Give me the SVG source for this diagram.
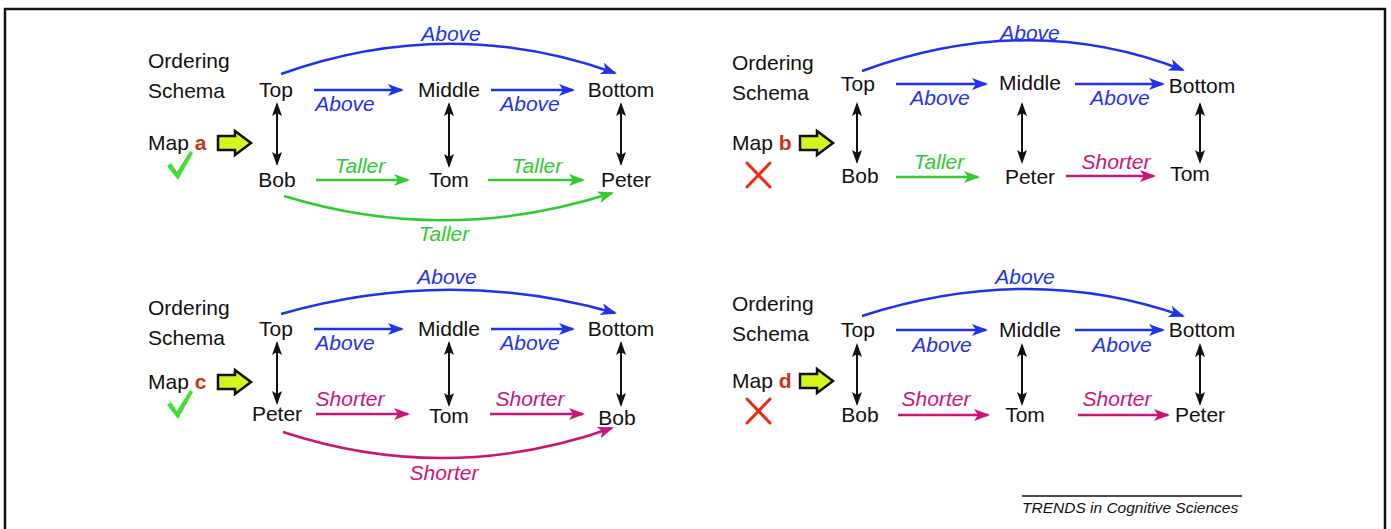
<svg xmlns="http://www.w3.org/2000/svg" width="1391" height="529" viewBox="0 0 1391 529">
  <style>
    text { font-family: "Liberation Sans", Arial, sans-serif; font-size: 21px; fill: #111; }
    .node { text-anchor: middle; }
    .lbl { font-style: italic; text-anchor: middle; }
    .blue { fill: #1f33ee; }
    .green { fill: #2fcc2f; }
    .pink { fill: #cc1676; }
    .mapid { font-weight: bold; fill: #c8361a; }
    .eb { stroke: #1f33ee; stroke-width: 2.5; fill: none; marker-end: url(#hb); }
    .eg { stroke: #2fcc2f; stroke-width: 2.5; fill: none; marker-end: url(#hg); }
    .ep { stroke: #cc1676; stroke-width: 2.5; fill: none; marker-end: url(#hp); }
    .ek { stroke: #111; stroke-width: 2; fill: none; marker-start: url(#hk); marker-end: url(#hk); }
    .foot { font-size: 15.5px; font-style: italic; }
  </style>
  <defs>
    <marker id="hb" viewBox="0 0 16 12" refX="14" refY="6" markerWidth="16" markerHeight="12" markerUnits="userSpaceOnUse" orient="auto">
      <path d="M0,0 L16,6 L0,12 L4,6 Z" fill="#1f33ee"/>
    </marker>
    <marker id="hg" viewBox="0 0 16 12" refX="14" refY="6" markerWidth="16" markerHeight="12" markerUnits="userSpaceOnUse" orient="auto">
      <path d="M0,0 L16,6 L0,12 L4,6 Z" fill="#2fcc2f"/>
    </marker>
    <marker id="hp" viewBox="0 0 16 12" refX="14" refY="6" markerWidth="16" markerHeight="12" markerUnits="userSpaceOnUse" orient="auto">
      <path d="M0,0 L16,6 L0,12 L4,6 Z" fill="#cc1676"/>
    </marker>
    <marker id="hk" viewBox="0 0 14 10" refX="12" refY="5" markerWidth="14" markerHeight="10" markerUnits="userSpaceOnUse" orient="auto-start-reverse">
      <path d="M0,0 L14,5 L0,10 L3,5 Z" fill="#111"/>
    </marker>
    <!-- block arrow pointing from the map label to the mapping -->
    <path id="maparrow" d="M0,-7 L17,-7 L17,-12 L33,0 L17,12 L17,7 L0,7 Z" fill="#d6f51e" stroke="#111" stroke-width="2.5" stroke-linejoin="miter"/>
    <path id="tick" d="M0,13 L4,10 L10,19 L23,-2 L26,0 L11,27 Z" fill="#44dd33"/>
    <g id="cross" stroke="#ee2a12" stroke-width="3" stroke-linecap="round">
      <line x1="0" y1="0" x2="23" y2="24"/>
      <line x1="23" y1="0" x2="0" y2="24"/>
    </g>
  </defs>

  <rect width="1391" height="529" fill="#fff"/>
  <!-- frame -->
  <path d="M5,540 L5,9 L1385,9 L1385,540" fill="none" stroke="#111" stroke-width="2.5"/>

  <!-- ===== Map a ===== -->
  <g id="panel-a">
    <g id="a-schema"><text x="148" y="68">Ordering</text><text x="148" y="98">Schema</text></g>
    <g id="a-map"><text x="148" y="150">Map <tspan class="mapid">a</tspan></text><use href="#maparrow" x="218" y="143"/></g>
    <use id="a-verdict" href="#tick" x="167" y="153"/>
    <g id="a-top"><text class="node" x="276" y="97">Top</text></g>
    <g id="a-middle"><text class="node" x="449" y="97">Middle</text></g>
    <g id="a-bottom"><text class="node" x="621" y="97">Bottom</text></g>
    <g id="a-bob"><text class="node" x="277" y="187">Bob</text></g>
    <g id="a-tom"><text class="node" x="449" y="187">Tom</text></g>
    <g id="a-peter"><text class="node" x="626" y="187">Peter</text></g>
    <g id="a-edges">
      <path class="eb" d="M314,90 L402,90"/>
      <path class="eb" d="M491,90 L573,90"/>
      <path class="eb" d="M281,74 Q449,14 615,73"/>
      <path class="ek" d="M277,104 L277,164"/>
      <path class="ek" d="M449,104 L449,166"/>
      <path class="ek" d="M621,104 L621,164"/>
      <path class="eg" d="M316,180 L408,180"/>
      <path class="eg" d="M488,180 L583,180"/>
      <path class="eg" d="M284,196 Q447,246 612,193"/>
      <text class="lbl blue" x="345" y="111">Above</text>
      <text class="lbl blue" x="530" y="111">Above</text>
      <text class="lbl blue" x="451" y="41">Above</text>
      <text class="lbl green" x="360" y="173">Taller</text>
      <text class="lbl green" x="537" y="173">Taller</text>
      <text class="lbl green" x="444" y="241">Taller</text>
    </g>
  </g>

  <!-- ===== Map b ===== -->
  <g id="panel-b">
    <g id="b-schema"><text x="732" y="70">Ordering</text><text x="732" y="100">Schema</text></g>
    <g id="b-map"><text x="732" y="150">Map <tspan class="mapid">b</tspan></text><use href="#maparrow" x="800" y="143"/></g>
    <use id="b-verdict" href="#cross" x="747" y="163"/>
    <g id="b-top"><text class="node" x="858" y="91">Top</text></g>
    <g id="b-middle"><text class="node" x="1030" y="90">Middle</text></g>
    <g id="b-bottom"><text class="node" x="1202" y="93">Bottom</text></g>
    <g id="b-bob"><text class="node" x="860" y="183">Bob</text></g>
    <g id="b-peter"><text class="node" x="1030" y="184">Peter</text></g>
    <g id="b-tom"><text class="node" x="1190" y="181">Tom</text></g>
    <g id="b-edges">
      <path class="eb" d="M896,84 L986,84"/>
      <path class="eb" d="M1075,84 L1163,84"/>
      <path class="eb" d="M862,71 Q1030,10 1183,70"/>
      <path class="ek" d="M857,104 L857,162"/>
      <path class="ek" d="M1022,104 L1022,162"/>
      <path class="ek" d="M1200,104 L1200,162"/>
      <path class="eg" d="M896,177 L978,177"/>
      <path class="ep" d="M1066,176 L1154,176"/>
      <text class="lbl blue" x="940" y="105">Above</text>
      <text class="lbl blue" x="1120" y="105">Above</text>
      <text class="lbl blue" x="1030" y="40">Above</text>
      <text class="lbl green" x="939" y="169">Taller</text>
      <text class="lbl pink" x="1116" y="169">Shorter</text>
    </g>
  </g>

  <!-- ===== Map c ===== -->
  <g id="panel-c">
    <g id="c-schema"><text x="148" y="315">Ordering</text><text x="148" y="345">Schema</text></g>
    <g id="c-map"><text x="148" y="389">Map <tspan class="mapid">c</tspan></text><use href="#maparrow" x="218" y="382"/></g>
    <use id="c-verdict" href="#tick" x="167" y="392"/>
    <g id="c-top"><text class="node" x="276" y="336">Top</text></g>
    <g id="c-middle"><text class="node" x="449" y="336">Middle</text></g>
    <g id="c-bottom"><text class="node" x="621" y="336">Bottom</text></g>
    <g id="c-peter"><text class="node" x="277" y="421">Peter</text></g>
    <g id="c-tom"><text class="node" x="449" y="423">Tom</text></g>
    <g id="c-bob"><text class="node" x="617" y="425">Bob</text></g>
    <g id="c-edges">
      <path class="eb" d="M314,329 L402,329"/>
      <path class="eb" d="M491,329 L573,329"/>
      <path class="eb" d="M281,314 Q449,266 615,313"/>
      <path class="ek" d="M277,343 L277,403"/>
      <path class="ek" d="M449,343 L449,405"/>
      <path class="ek" d="M621,343 L621,405"/>
      <path class="ep" d="M316,414 L408,414"/>
      <path class="ep" d="M490,414 L583,414"/>
      <path class="ep" d="M283,432 Q447,486 612,428"/>
      <text class="lbl blue" x="345" y="350">Above</text>
      <text class="lbl blue" x="530" y="350">Above</text>
      <text class="lbl blue" x="447" y="284">Above</text>
      <text class="lbl pink" x="350" y="406">Shorter</text>
      <text class="lbl pink" x="530" y="406">Shorter</text>
      <text class="lbl pink" x="444" y="480">Shorter</text>
    </g>
  </g>

  <!-- ===== Map d ===== -->
  <g id="panel-d">
    <g id="d-schema"><text x="732" y="311">Ordering</text><text x="732" y="341">Schema</text></g>
    <g id="d-map"><text x="732" y="388">Map <tspan class="mapid">d</tspan></text><use href="#maparrow" x="800" y="381"/></g>
    <use id="d-verdict" href="#cross" x="747" y="399"/>
    <g id="d-top"><text class="node" x="858" y="337">Top</text></g>
    <g id="d-middle"><text class="node" x="1030" y="337">Middle</text></g>
    <g id="d-bottom"><text class="node" x="1202" y="337">Bottom</text></g>
    <g id="d-bob"><text class="node" x="860" y="422">Bob</text></g>
    <g id="d-tom"><text class="node" x="1025" y="422">Tom</text></g>
    <g id="d-peter"><text class="node" x="1200" y="422">Peter</text></g>
    <g id="d-edges">
      <path class="eb" d="M896,330 L986,330"/>
      <path class="eb" d="M1075,330 L1163,330"/>
      <path class="eb" d="M862,316 Q1030,262 1183,316"/>
      <path class="ek" d="M857,345 L857,404"/>
      <path class="ek" d="M1022,345 L1022,404"/>
      <path class="ek" d="M1200,345 L1200,404"/>
      <path class="ep" d="M898,415 L988,415"/>
      <path class="ep" d="M1078,415 L1168,415"/>
      <text class="lbl blue" x="942" y="352">Above</text>
      <text class="lbl blue" x="1122" y="352">Above</text>
      <text class="lbl blue" x="1025" y="284">Above</text>
      <text class="lbl pink" x="936" y="406">Shorter</text>
      <text class="lbl pink" x="1117" y="406">Shorter</text>
    </g>
  </g>

  <!-- credit line -->
  <line x1="1022" y1="496" x2="1242" y2="496" stroke="#111" stroke-width="1.5"/>
  <text class="foot" x="1022" y="513">TRENDS in Cognitive Sciences</text>
</svg>
